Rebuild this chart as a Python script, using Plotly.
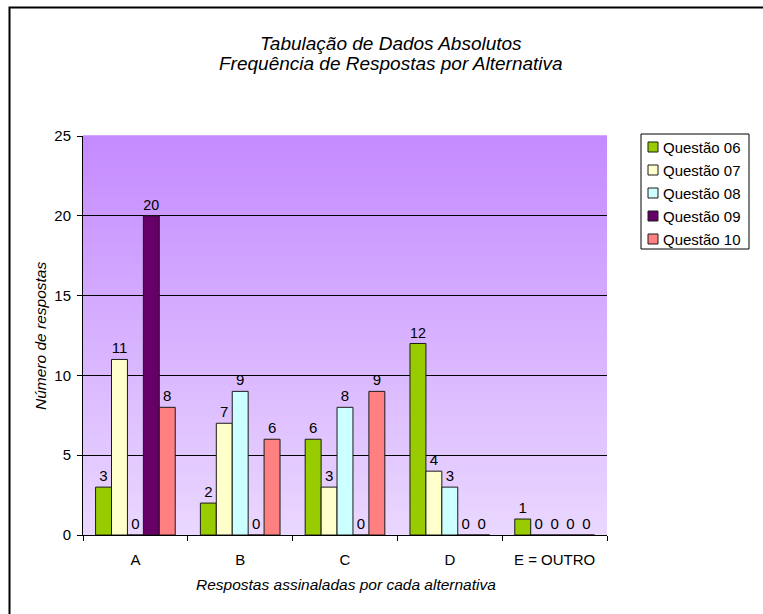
import plotly.graph_objects as go

categories = ["A", "B", "C", "D", "E = OUTRO"]
series_names = ["Questão 06", "Questão 07", "Questão 08", "Questão 09", "Questão 10"]
q06 = [3, 2, 6, 12, 1]
q07 = [11, 7, 3, 4, 0]
q08 = [0, 9, 8, 3, 0]
q09 = [20, 0, 0, 0, 0]
q10 = [8, 6, 9, 0, 0]
series_values = [q06, q07, q08, q09, q10]
colors = ["#99cc00", "#ffffcc", "#ccffff", "#660066", "#ff8080"]
y_ticks = [0, 5, 10, 15, 20, 25]

FONT = "Liberation Sans, Arial, sans-serif"

W, H = 763, 614
L, R, T, B = 83, 607, 136, 535

fig = go.Figure()
for i, (name, vals) in enumerate(zip(series_names, series_values)):
    fig.add_trace(go.Bar(
        x=categories, y=vals, name=name,
        marker=dict(color=colors[i], line=dict(color="#1a1a1a", width=1)),
        text=[str(v) for v in vals], textposition="outside",
        textfont=dict(family=FONT, size=15, color="black"),
        cliponaxis=False, showlegend=False,
    ))


def px_x(p):
    return (p - L) / (R - L)


def px_y(p):
    return (B - p) / (B - T)


# gradient background bands
shapes = []
n = 120
top = (196, 138, 255)
bot = (234, 216, 255)
for k in range(n):
    t = (k + 0.5) / n
    c = tuple(round(bot[j] + (top[j] - bot[j]) * t) for j in range(3))
    shapes.append(dict(type="rect", xref="x domain", yref="y domain",
                       x0=0, x1=1, y0=k / n, y1=(k + 1) / n + 0.002,
                       fillcolor=f"rgb{c}", line=dict(width=0), layer="below"))

# outer frame (cut off at right and bottom)
shapes.append(dict(type="rect", xref="paper", yref="paper",
                   x0=px_x(9.5), x1=px_x(780), y0=px_y(630), y1=px_y(7.5),
                   line=dict(color="black", width=2), fillcolor="rgba(0,0,0,0)",
                   layer="above"))

annotations = [
    dict(text="<i>Tabulação de Dados Absolutos</i>", x=px_x(391), y=px_y(43),
         xanchor="center", yanchor="middle",
         xref="paper", yref="paper", showarrow=False,
         font=dict(family=FONT, size=19, color="black")),
    dict(text="<i>Frequência de Respostas por Alternativa</i>", x=px_x(391), y=px_y(63),
         xanchor="center", yanchor="middle",
         xref="paper", yref="paper", showarrow=False,
         font=dict(family=FONT, size=19, color="black")),
    dict(text="<i>Número de respostas</i>", x=px_x(40), y=px_y(336), textangle=-90,
         xanchor="center", yanchor="middle",
         xref="paper", yref="paper", showarrow=False,
         font=dict(family=FONT, size=15.5, color="black")),
    dict(text="<i>Respostas assinaladas por cada alternativa</i>", x=px_x(346), y=px_y(584),
         xanchor="center", yanchor="middle",
         xref="paper", yref="paper", showarrow=False,
         font=dict(family=FONT, size=15.5, color="black")),
]

# legend (box, swatches, labels)
LEG_L, LEG_R, LEG_T, LEG_B = 641, 749, 134, 249
shapes.append(dict(type="rect", xref="paper", yref="paper",
                   x0=px_x(LEG_L), x1=px_x(LEG_R), y0=px_y(LEG_B), y1=px_y(LEG_T),
                   line=dict(color="black", width=1), fillcolor="white", layer="above"))
row0, step = 147, 23
for i, name in enumerate(series_names):
    yc = row0 + i * step
    shapes.append(dict(type="rect", xref="paper", yref="paper",
                       x0=px_x(648), x1=px_x(658), y0=px_y(yc + 5), y1=px_y(yc - 5),
                       line=dict(color="#1a1a1a", width=1), fillcolor=colors[i],
                       layer="above"))
    annotations.append(dict(text=name, x=px_x(661), y=px_y(yc), xanchor="left",
                            yanchor="middle", xref="paper", yref="paper",
                            showarrow=False,
                            font=dict(family=FONT, size=15, color="black")))

fig.update_layout(
    width=W, height=H,
    margin=dict(l=L, r=W - R, t=T, b=H - B, autoexpand=False),
    paper_bgcolor="white", plot_bgcolor="rgba(0,0,0,0)",
    barmode="group", bargap=0.24, bargroupgap=0,
    font=dict(family=FONT, size=15, color="black"),
    shapes=shapes, annotations=annotations,
    showlegend=False,
)
fig.update_xaxes(showline=True, linecolor="black", linewidth=1,
                 ticks="outside", ticklen=5, tickcolor="black", tickson="boundaries",
                 showgrid=False, tickfont=dict(family=FONT, size=15),
                 ticklabelstandoff=11)
fig.update_yaxes(range=[0, 25], tickvals=y_ticks, showline=True, linecolor="black",
                 linewidth=1, ticks="outside", ticklen=5, tickcolor="black",
                 showgrid=True, gridcolor="black", gridwidth=1, zeroline=False,
                 tickfont=dict(family=FONT, size=15), ticklabelstandoff=3)

fig.write_html("out.html")
